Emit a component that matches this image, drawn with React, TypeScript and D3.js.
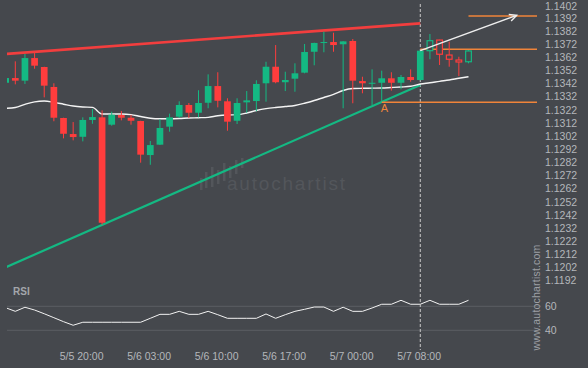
import React from "react";
import * as d3 from "d3";

// hourly candles, index 0..48
const opens = [1.13426, 1.13462, 1.13442, 1.13614, 1.13546, 1.13394, 1.13158, 1.13036, 1.13015, 1.13143, 1.13163, 1.13107, 1.13181, 1.1316, 1.13135, 1.12876, 1.12955, 1.13092, 1.13168, 1.13257, 1.13198, 1.13274, 1.13401, 1.13285, 1.13137, 1.13277, 1.13287, 1.13422, 1.13548, 1.1343, 1.13457, 1.13503, 1.13662, 1.13729, 1.13736, 1.13719, 1.13744, 1.13439, 1.13422, 1.13426, 1.1346, 1.13426, 1.1347, 1.13447, 1.1367, 1.13751, 1.13637, 1.13599, 1.13586];
const highs = [1.13464, 1.13589, 1.13645, 1.13652, 1.13548, 1.13422, 1.1316, 1.13127, 1.13163, 1.13226, 1.13216, 1.13206, 1.13211, 1.13181, 1.13137, 1.12983, 1.13148, 1.13191, 1.13285, 1.13272, 1.13369, 1.1349, 1.13506, 1.13308, 1.13308, 1.13363, 1.13445, 1.13586, 1.13713, 1.1351, 1.13574, 1.13721, 1.13731, 1.13815, 1.13807, 1.13743, 1.13759, 1.13472, 1.13528, 1.13518, 1.13506, 1.13485, 1.13528, 1.13672, 1.13797, 1.13753, 1.13738, 1.13624, 1.13675];
const lows = [1.13424, 1.13414, 1.13417, 1.13533, 1.13315, 1.13133, 1.13003, 1.12988, 1.1298, 1.13114, 1.12346, 1.13099, 1.1314, 1.13107, 1.12818, 1.12802, 1.12953, 1.13054, 1.13158, 1.13158, 1.13163, 1.13232, 1.13239, 1.13061, 1.13112, 1.13198, 1.13209, 1.13282, 1.13422, 1.13363, 1.13358, 1.13498, 1.13559, 1.13658, 1.13662, 1.13232, 1.1327, 1.13346, 1.13257, 1.13282, 1.13366, 1.13376, 1.13434, 1.13445, 1.13605, 1.13561, 1.13548, 1.13477, 1.13574];
const closes = [1.13462, 1.13442, 1.13614, 1.13556, 1.13404, 1.1316, 1.13038, 1.13013, 1.13143, 1.13165, 1.12361, 1.13183, 1.1316, 1.13137, 1.12879, 1.12952, 1.13082, 1.13163, 1.13257, 1.13198, 1.13272, 1.13401, 1.13289, 1.1313, 1.13272, 1.13292, 1.13417, 1.13548, 1.1343, 1.13447, 1.13498, 1.1366, 1.13729, 1.13736, 1.13713, 1.13741, 1.13442, 1.13422, 1.13426, 1.1346, 1.13426, 1.1347, 1.13447, 1.1367, 1.13746, 1.13643, 1.13605, 1.13584, 1.13668];

const movingAvg = [1.13232, 1.13238, 1.13262, 1.13281, 1.13287, 1.13277, 1.13263, 1.13249, 1.13242, 1.13239, 1.13188, 1.13188, 1.13188, 1.13184, 1.13169, 1.13156, 1.13152, 1.13152, 1.13154, 1.13158, 1.1316, 1.13163, 1.13175, 1.13181, 1.13183, 1.13196, 1.13215, 1.13229, 1.13238, 1.13245, 1.13253, 1.1327, 1.13291, 1.13314, 1.13337, 1.13367, 1.13382, 1.13384, 1.13385, 1.13386, 1.1339, 1.13394, 1.13399, 1.13417, 1.13426, 1.13437, 1.13447, 1.1346, 1.13472];

const rsi = [58.8, 55.8, 59.2, 56.9, 53.8, 50.5, 47.2, 44.2, 46.7, 46.7, 46.7, 46.7, 46.7, 46.7, 46.7, 50, 53.3, 53.3, 55.8, 53.3, 53.3, 55.8, 53, 50, 50, 50, 50, 53.6, 50, 53, 55.8, 57.5, 59.4, 59.4, 55.8, 59.2, 55.8, 55.8, 58.6, 61.7, 61.7, 65, 61.7, 61.7, 65, 61.7, 61.7, 61.7, 65];

const xTickIndex = [8, 15, 22, 29, 36, 43];
const xTickLabels = ["5/5 20:00", "5/6 03:00", "5/6 10:00", "5/6 17:00", "5/7 00:00", "5/7 08:00"];
const yTickLabels = ["1.1402", "1.1392", "1.1382", "1.1372", "1.1362", "1.1352", "1.1342", "1.1332", "1.1322", "1.1312", "1.1302", "1.1292", "1.1282", "1.1272", "1.1262", "1.1252", "1.1242", "1.1232", "1.1222", "1.1212", "1.1202", "1.1192"];
const rsiTicks = [60, 40];

// pattern: [index, price]
const resistance = [[0, 1.13645], [43, 1.13878]];
const support = [[0, 1.12022], [43, 1.13409]];
const breakoutIndex = 43;
const forecastEnd = [53, 1.13939];
const levelTarget = 1.13934;
const levelBreak = 1.13681;
const levelA = 1.13277;
const levelAStart = 39;

const BG = "#45484d";
const RED = "#ff3d3d";
const GREEN = "#14b983";
const ORANGE = "#f0843a";
const TEXT = "#b4b7bb";
const GRID = "#5b5e63";

export default function App() {
  const x = d3.scaleLinear().domain([0, 48]).range([5.66, 468.5]);
  const y = d3.scaleLinear().domain([1.1192, 1.1402]).range([280.7, 4.7]);
  const yR = d3.scaleLinear().domain([40, 60]).range([330.3, 306.3]);
  const plotLeft = 7, plotRight = 537;
  const bw = 6.7;

  const maLine = d3.line<number>().x((d, i) => x(i)).y(d => y(d)).curve(d3.curveMonotoneX)(movingAvg);
  const rsiLine = d3.line<number>().x((d, i) => x(i)).y(d => yR(d))(rsi);

  const tx = x(breakoutIndex);
  const ax1 = x(forecastEnd[0]), ay1 = y(forecastEnd[1]);
  const ax0 = x(breakoutIndex), ay0 = y(closes[breakoutIndex]);
  const ang = Math.atan2(ay1 - ay0, ax1 - ax0);
  const head = (da: number) => `${ax1 - 8 * Math.cos(ang + da)},${ay1 - 8 * Math.sin(ang + da)}`;

  return (
    <svg width={588} height={368} style={{ position: "absolute", left: 0, top: 0, background: BG }}
      fontFamily="'Liberation Sans', Arial, sans-serif">
      <defs>
        <clipPath id="plot"><rect x={plotLeft} y={0} width={plotRight - plotLeft} height={290} /></clipPath>
        <clipPath id="rsi"><rect x={plotLeft} y={290} width={plotRight - plotLeft} height={50} /></clipPath>
      </defs>
      <rect width={588} height={368} fill={BG} />

      {/* watermark */}
      <g fill="#53565b">
        {[[200, 178, 12], [205, 172, 16], [211, 167, 20], [217, 170, 14], [223, 163, 18], [229, 166, 12], [235, 160, 14], [241, 158, 10]].map(([bx, by, bh], i) => (
          <rect key={i} x={bx} y={by} width={2.5} height={bh} />
        ))}
        <text x={227} y={190} fontSize={19} letterSpacing={1.8}>autochartist</text>
      </g>

      {/* y axis */}
      {yTickLabels.map((t, i) => (
        <text key={t} x={545} y={Math.max(y(+t), 6)} dy="0.35em" fontSize={10.5} fill={TEXT}>{t}</text>
      ))}

      {/* RSI panel */}
      {rsiTicks.map(v => (
        <g key={v}>
          <line x1={plotLeft} x2={541} y1={yR(v)} y2={yR(v)} stroke={GRID} strokeWidth={1} />
          <text x={545} y={yR(v)} dy="0.35em" fontSize={10.5} fill={TEXT}>{v}</text>
        </g>
      ))}
      <text x={13} y={291.7} dy="0.35em" fontSize={10} fontWeight="bold" fill="#a3a6ab">RSI</text>
      <path d={rsiLine || ""} fill="none" stroke="#f2f2f2" strokeWidth={1} clipPath="url(#rsi)" />

      {/* x axis */}
      {xTickIndex.map((idx, i) => (
        <text key={idx} x={x(idx) - 1.2} y={356.7} dy="0.35em" textAnchor="middle" fontSize={10.5} fill={TEXT}>{xTickLabels[i]}</text>
      ))}

      <text transform="translate(536,297.5) rotate(-90)" textAnchor="middle" dy="0.35em" fontSize={10.5}
        letterSpacing={0.2} fill="#9c9fa4">www.autochartist.com</text>

      {/* breakout time */}
      <line x1={tx} x2={tx} y1={4} y2={350} stroke="#c9c9c9" strokeWidth={1} strokeDasharray="3,2" />

      <g clipPath="url(#plot)">
        {/* trend lines */}
        <line x1={x(resistance[0][0])} y1={y(resistance[0][1])} x2={x(resistance[1][0])} y2={y(resistance[1][1])}
          stroke="#f23e3e" strokeWidth={2.6} />
        <line x1={x(support[0][0])} y1={y(support[0][1])} x2={x(support[1][0])} y2={y(support[1][1])}
          stroke={GREEN} strokeWidth={2.2} />

        <path d={maLine || ""} fill="none" stroke="#f4f4f4" strokeWidth={1.4} />

        {/* levels */}
        <line x1={x(48)} x2={plotRight} y1={y(levelTarget)} y2={y(levelTarget)} stroke={ORANGE} strokeWidth={1.5} />
        <line x1={x(breakoutIndex)} x2={plotRight} y1={y(levelBreak)} y2={y(levelBreak)} stroke={ORANGE} strokeWidth={1.5} />
        <line x1={x(levelAStart)} x2={plotRight} y1={y(levelA)} y2={y(levelA)} stroke={ORANGE} strokeWidth={1.5} />
        <text x={x(levelAStart) + 2.6} y={y(levelA) + 6} dy="0.35em" textAnchor="middle" fontSize={11} fill={ORANGE}>A</text>

        {/* candles */}
        {opens.map((o, i) => {
          const c = closes[i];
          const up = c >= o;
          const col = up ? GREEN : RED;
          const top = y(Math.max(o, c));
          const h = Math.max(1, y(Math.min(o, c)) - top);
          const hollow = i > breakoutIndex;
          return (
            <g key={i}>
              <line x1={x(i)} x2={x(i)} y1={y(highs[i])} y2={y(lows[i])} stroke={col} strokeWidth={1} />
              {hollow ? (
                <rect x={x(i) - bw / 2 + 0.5} y={top} width={bw - 1} height={Math.max(1, h)} fill={BG} stroke={col} strokeWidth={1.2} />
              ) : (
                <rect x={x(i) - bw / 2} y={top} width={bw} height={h} fill={col} />
              )}
            </g>
          );
        })}

        {/* forecast arrow */}
        <line x1={ax0} y1={ay0} x2={ax1} y2={ay1} stroke="#eeeeee" strokeWidth={1.4} />
        <polyline points={`${head(0.45)} ${ax1},${ay1} ${head(-0.45)}`} fill="none" stroke="#eeeeee" strokeWidth={1.4} />
      </g>
    </svg>
  );
}
